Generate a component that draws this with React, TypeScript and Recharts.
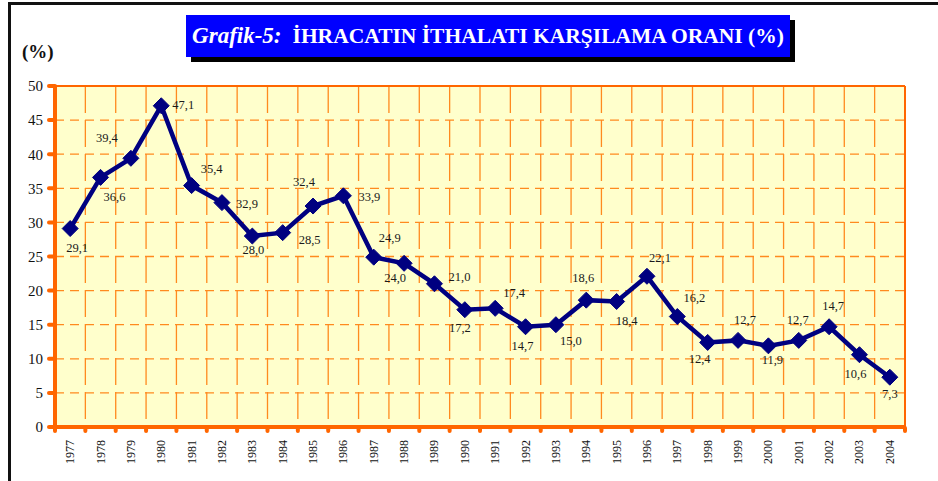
import { CartesianGrid, LabelList, Line, LineChart, XAxis, YAxis } from "recharts"

const years = [
  "1977", "1978", "1979", "1980", "1981", "1982", "1983", "1984", "1985", "1986",
  "1987", "1988", "1989", "1990", "1991", "1992", "1993", "1994", "1995", "1996",
  "1997", "1998", "1999", "2000", "2001", "2002", "2003", "2004",
]

const ratio = [
  29.1, 36.6, 39.4, 47.1, 35.4, 32.9, 28.0, 28.5, 32.4, 33.9,
  24.9, 24.0, 21.0, 17.2, 17.4, 14.7, 15.0, 18.6, 18.4, 22.1,
  16.2, 12.4, 12.7, 11.9, 12.7, 14.7, 10.6, 7.3,
]

const yTicks = [0, 5, 10, 15, 20, 25, 30, 35, 40, 45, 50]

// where each value label sits relative to its marker
const labelOffsets = [
  [7, 19], [14, 20], [-24, -20], [22, -1], [20, -17], [25, 1], [1, 14], [27, 7],
  [-9, -24], [26, 1], [16, -19], [-9, 15], [25, -7], [-5, 18], [19, -15], [-3, 19],
  [15, 16], [-3, -22], [10, 19], [13, -18], [17, -19], [-8, 17], [7, -20], [4, 14],
  [-1, -20], [4, -21], [-4, 19], [0, 17],
]

const data = years.map((year, i) => ({ year, value: ratio[i] }))

const ORANGE = "#ff6600"
const GRID = "#ff8a1f"
const NAVY = "#000080"
const SERIF = "'Liberation Serif', 'Times New Roman', serif"

const PLOT_W = 850
const BAND = PLOT_W / years.length

const Diamond = (props: any) => {
  const { cx, cy, index } = props
  if (cx == null || cy == null) return null
  const r = 8
  return (
    <polygon
      key={`d-${index}`}
      points={`${cx},${cy - r} ${cx + r},${cy} ${cx},${cy + r} ${cx - r},${cy}`}
      fill={NAVY}
      stroke={NAVY}
      strokeWidth={1}
      strokeLinejoin="round"
    />
  )
}

const ValueLabel = (props: any) => {
  const { x, y, value, index } = props
  const [dx, dy] = labelOffsets[index] || [0, -15]
  return (
    <text
      x={x + dx}
      y={y + dy}
      textAnchor="middle"
      dominantBaseline="central"
      style={{ fontFamily: SERIF }}
      fontSize={12.5}
      fill="#1a1a1a"
    >
      {Number(value).toFixed(1).replace(".", ",")}
    </text>
  )
}

const YearTick = (props: any) => {
  const { x, y, payload, index } = props
  const dot = (px: number) => (
    <line x1={px} y1={y + 1} x2={px} y2={y + 4} stroke={ORANGE} strokeWidth={4} strokeLinecap="round" />
  )
  return (
    <g>
      {index === 0 && dot(x - BAND / 2)}
      {dot(x + BAND / 2)}
      <text
        transform={`translate(${x}, ${y + 13}) rotate(-90)`}
        textAnchor="end"
        dominantBaseline="central"
        style={{ fontFamily: SERIF }}
        fontSize={12}
        fill="#111"
      >
        {payload.value}
      </text>
    </g>
  )
}

const verticalLines = ({ offset }: any) => {
  const left = offset?.left ?? 55
  const width = offset?.width ?? PLOT_W
  const step = width / years.length
  return years.slice(1).map((_, i) => left + (i + 1) * step)
}

export default function App() {
  return (
    <div style={{ position: "absolute", left: 0, top: 0, width: 938, height: 481, background: "#fff", overflow: "hidden" }}>
      <div
        style={{
          position: "absolute",
          left: 8,
          top: 2,
          width: 940,
          height: 500,
          borderTop: "3px solid #111",
          borderLeft: "3px solid #111",
          boxSizing: "border-box",
        }}
      />
      <LineChart
        width={938}
        height={481}
        data={data}
        margin={{ top: 84, right: 31, bottom: 0, left: 0 }}
        style={{ position: "absolute", left: 0, top: 0, fontFamily: SERIF }}
      >
        <CartesianGrid vertical={false} stroke={GRID} strokeWidth={1.3} strokeDasharray="9 6" fill="#ffffcc" />
        <CartesianGrid
          horizontal={false}
          stroke={GRID}
          strokeWidth={1.3}
          strokeDasharray="27 7"
          verticalCoordinatesGenerator={verticalLines}
        />
        <XAxis
          dataKey="year"
          interval={0}
          height={54}
          padding={{ left: BAND / 2, right: BAND / 2 }}
          tickSize={0}
          tickMargin={0}
          tickLine={false}
          axisLine={{ stroke: ORANGE, strokeWidth: 4 }}
          tick={<YearTick />}
        />
        <XAxis
          xAxisId="t"
          dataKey="year"
          orientation="top"
          height={2}
          tick={false}
          tickLine={false}
          axisLine={{ stroke: ORANGE, strokeWidth: 2 }}
        />
        <YAxis
          width={55}
          domain={[0, 50]}
          ticks={yTicks}
          interval={0}
          tickSize={6}
          tickMargin={6}
          tickLine={{ stroke: ORANGE, strokeWidth: 4, strokeLinecap: "round" }}
          axisLine={{ stroke: ORANGE, strokeWidth: 4 }}
          tick={{ fill: "#111", fontSize: 15, style: { fontFamily: SERIF } }}
        />
        <YAxis
          yAxisId="r"
          orientation="right"
          width={2}
          domain={[0, 50]}
          tick={false}
          tickLine={false}
          axisLine={{ stroke: ORANGE, strokeWidth: 2 }}
        />
        <Line
          type="linear"
          dataKey="value"
          stroke={NAVY}
          strokeWidth={4.5}
          dot={<Diamond />}
          activeDot={false}
          isAnimationActive={false}
        >
          <LabelList dataKey="value" content={<ValueLabel />} />
        </Line>
      </LineChart>
      <div
        style={{
          position: "absolute",
          left: 22,
          top: 41,
          fontFamily: SERIF,
          fontWeight: "bold",
          fontSize: 19,
          color: "#111",
        }}
      >
        (%)
      </div>
      <div
        style={{
          position: "absolute",
          left: 186,
          top: 15,
          width: 604,
          height: 42,
          background: "#0000ff",
          boxShadow: "5px 5px 0 #000",
          display: "flex",
          alignItems: "center",
          justifyContent: "center",
          color: "#fff",
          fontFamily: SERIF,
          fontWeight: "bold",
          whiteSpace: "nowrap",
        }}
      >
        <span style={{ fontStyle: "italic", fontSize: 23 }}>Grafik-5:</span>
        <span style={{ fontSize: 21.5, marginLeft: 11 }}>İHRACATIN İTHALATI KARŞILAMA ORANI (%)</span>
      </div>
    </div>
  )
}
